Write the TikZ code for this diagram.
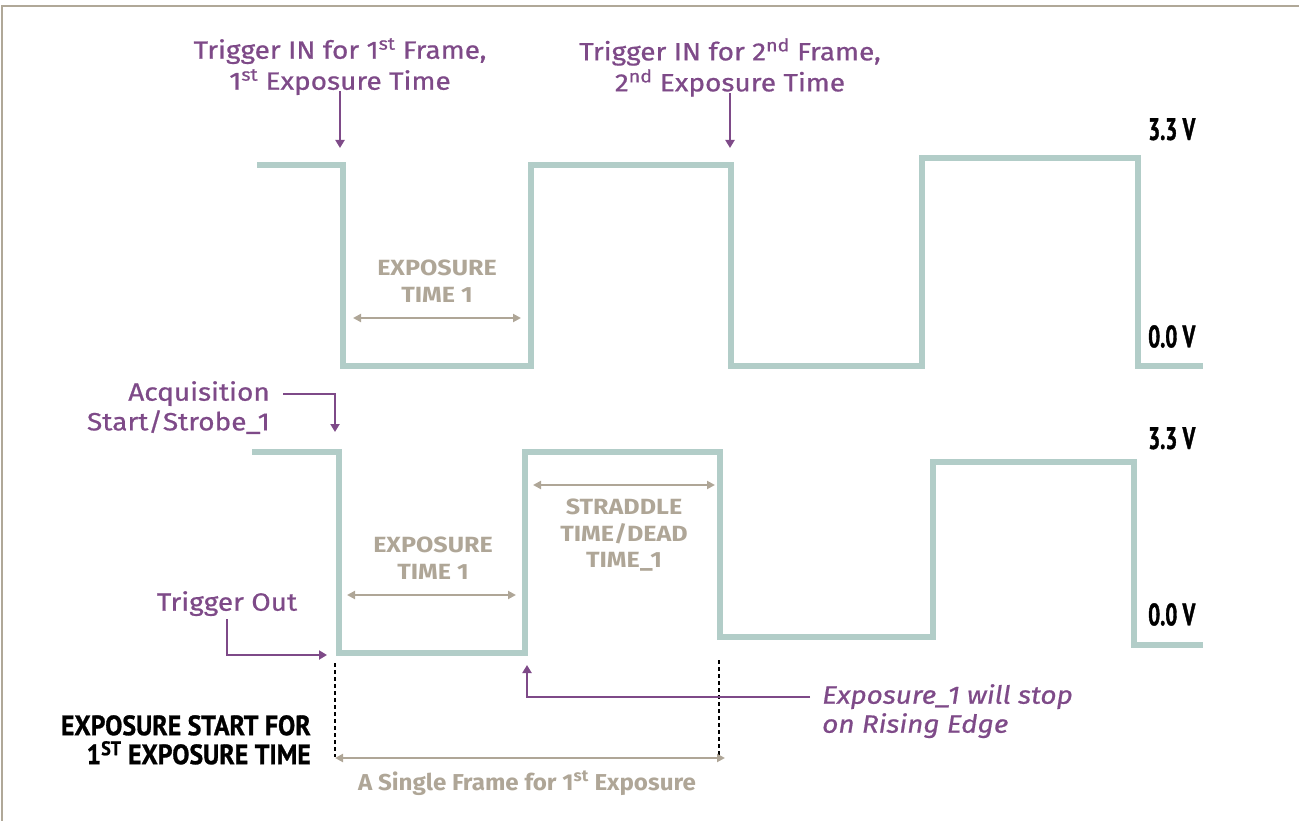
\documentclass[tikz,border=0pt]{standalone}
\usepackage{fontspec}
\setmainfont{Fira Sans}
\newfontfamily\pfont[FakeStretch=1.12,FakeBold=0.7]{Fira Sans}
\newfontfamily\gfont[FakeStretch=1.14]{Fira Sans}
\newfontfamily\sfont[FakeStretch=1.05]{Fira Sans}
\newfontfamily\condA[FakeStretch=0.68,FakeBold=1.2]{PT Sans}
\newfontfamily\condB[FakeStretch=0.92,FakeBold=1.0]{PT Sans}
\usetikzlibrary{arrows.meta}
\definecolor{wavec}{HTML}{B2CDC8}
\definecolor{purp}{HTML}{7E4A88}
\definecolor{graytxt}{HTML}{AFA697}
\definecolor{framec}{HTML}{B0A898}
\tikzset{
  wave/.style={draw=wavec, line width=6pt, miter limit=10},
  ptxt/.style={text=purp, inner sep=0pt, font=\pfont\fontsize{25}{31}\selectfont},
  pitxt/.style={text=purp, inner sep=0pt, font=\pfont\fontsize{25}{29}\selectfont\itshape},
  gtxt/.style={text=graytxt, inner sep=0pt, align=center, font=\gfont\fontsize{22}{26.5}\selectfont\bfseries},
  btxt/.style={text=black, inner sep=0pt, align=right, font=\condB\fontsize{28}{29}\selectfont\bfseries},
  vtxt/.style={text=black, inner sep=0pt, anchor=north west, font=\condA\fontsize{31}{31}\selectfont\bfseries},
  parrow/.style={draw=purp, line width=2pt, -{Triangle[length=8pt,width=9pt]}},
  garrow/.style={draw=graytxt, line width=2.5pt, {Triangle[length=8pt,width=8pt]}-{Triangle[length=8pt,width=8pt]}},
  dotline/.style={draw=black, line width=2.2pt, dash pattern=on 3.5pt off 3.5pt},
}
\begin{document}
\begin{tikzpicture}[x=1pt,y=-1pt]
\useasboundingbox (0,0) rectangle (1299,821);
\draw[framec, line width=1.5pt] (2,821) -- (2,6) -- (1299,6);

% waveforms
\draw[wave] (257,165) -- (343,165) -- (343,366) -- (531,366) -- (531,165) -- (731,165) -- (731,366) -- (922,366) -- (922,158) -- (1138,158) -- (1138,366) -- (1203,366);
\draw[wave] (252,452) -- (339,452) -- (339,653) -- (525,653) -- (525,452) -- (720,452) -- (720,637) -- (933,637) -- (933,462) -- (1134,462) -- (1134,645) -- (1203,645);

% voltage labels
\node[vtxt] (v1) at (1148,118) {3.3 V};
\node[vtxt] (v2) at (1148,325) {0.0 V};
\node[vtxt] (v3) at (1148,427) {3.3 V};
\node[vtxt] (v4) at (1148,603) {0.0 V};

% trigger in labels
\node[ptxt, align=center, anchor=north] (t1) at (340,38) {Trigger IN for 1\textsuperscript{st} Frame,\\1\textsuperscript{st} Exposure Time};
\node[ptxt, align=center, anchor=north] (t2) at (730,38) {Trigger IN for 2\textsuperscript{nd} Frame,\\2\textsuperscript{nd} Exposure Time};
\coordinate (t1tip) at (340,148);
\coordinate (t2tip) at (730,148);
\draw[parrow] ([yshift=4pt]t1.south) -- (t1tip);
\draw[parrow] ([yshift=4pt]t2.south) -- (t2tip);

% exposure time (top)
\node[gtxt, anchor=north] (e1) at (437,260) {EXPOSURE\\TIME 1};
\coordinate (e1l) at (353,318);
\coordinate (e1r) at (521,318);
\draw[garrow] (e1l) -- (e1r);

% acquisition
\node[ptxt, anchor=north east] (acq1) at (270,381) {Acquisition};
\node[ptxt, anchor=north east] (acq2) at (270,410) {Start/Strobe\_1};
\coordinate (acqtip) at (335,432);
\draw[parrow] ([xshift=13pt]acq1.east) -| (acqtip);

% exposure time (bottom)
\node[gtxt, anchor=north] (e2) at (433,537) {EXPOSURE\\TIME 1};
\coordinate (e2l) at (347,595);
\coordinate (e2r) at (516,595);
\draw[garrow] (e2l) -- (e2r);

% straddle
\node[gtxt, anchor=north] (st) at (624,499) {STRADDLE\\TIME/DEAD\\TIME\_1};
\coordinate (stl) at (533,485);
\coordinate (str) at (715,485);
\draw[garrow] (stl) -- (str);

% trigger out
\node[ptxt, anchor=north] (tout) at (227,591) {Trigger Out};
\coordinate (touttip) at (327,655);
\draw[parrow] ([yshift=-3pt]tout.south) |- (touttip);

% dotted lines
\coordinate (d1t) at (335,663);
\coordinate (d1b) at (335,757);
\coordinate (d2t) at (719,660);
\coordinate (d2b) at (719,757);
\draw[dotline] (d1t) -- (d1b);
\draw[dotline] (d2t) -- (d2b);

% single frame
\coordinate (sfl) at (335,758);
\coordinate (sfr) at (725,758);
\draw[garrow] (sfl) -- (sfr);
\node[text=graytxt, inner sep=0pt, anchor=north, font=\sfont\fontsize{23}{26}\selectfont\bfseries] (sf) at (527,771) {A Single Frame for 1\textsuperscript{st} Exposure};

% exposure start
\node[btxt, anchor=north east] (es) at (311,715) {EXPOSURE START FOR\\1\textsuperscript{ST} EXPOSURE TIME};

% exposure stop
\node[pitxt, align=left, anchor=north west] (stop) at (822,684) {Exposure\_1 will stop\\on Rising Edge};
\coordinate (stoptip) at (527,665);
\draw[parrow] ([xshift=-12pt,yshift=14pt]stop.west) -| (stoptip);
\end{tikzpicture}
\end{document}
